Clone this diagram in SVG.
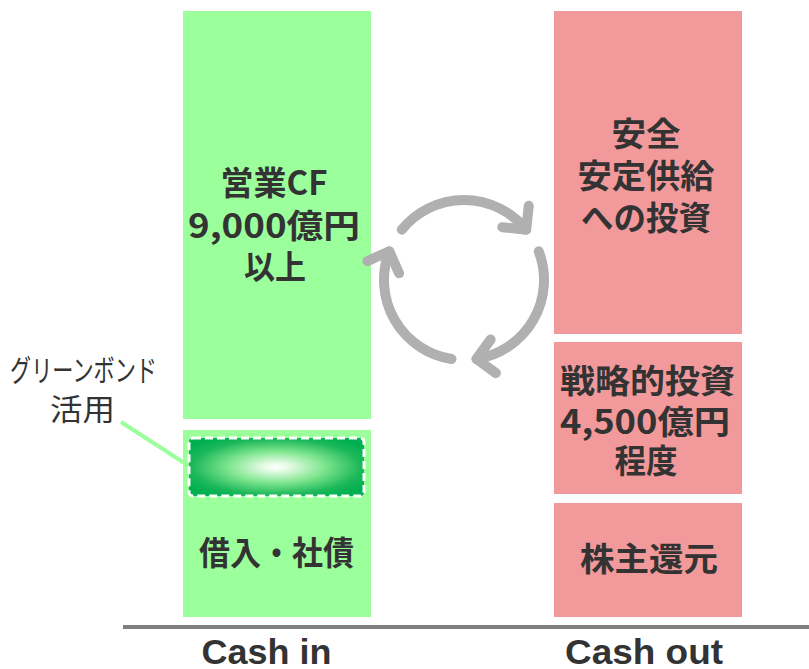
<svg xmlns="http://www.w3.org/2000/svg" width="809" height="669" viewBox="0 0 809 669">
<style>
.g{fill:#9bff9b}
.r{fill:#f2999b}
.t{font-family:"Noto Sans CJK JP",sans-serif;font-weight:bold;font-size:33px;fill:#333;text-anchor:middle}
.l{font-family:"Noto Sans CJK JP",sans-serif;font-size:30px;fill:#333;text-anchor:middle}
.c{font-family:"Liberation Sans",Arial,sans-serif;font-weight:bold;font-size:35px;fill:#333;text-anchor:middle}
.arc{fill:none;stroke:#b0b0b0;stroke-width:10;stroke-linecap:round;marker-end:url(#chev)}
</style>
<defs>
<marker id="chev" markerUnits="userSpaceOnUse" orient="auto" refX="0" refY="0" markerWidth="40" markerHeight="40" overflow="visible">
<path d="M-17,-17 L0,0 L-17,17" fill="none" stroke="#b0b0b0" stroke-width="10" stroke-linecap="round" stroke-linejoin="round"/>
</marker>
<radialGradient id="gb" cx="0.5" cy="0.5" r="0.6">
<stop offset="0" stop-color="#ffffff"/>
<stop offset="0.12" stop-color="#e6fbe6"/>
<stop offset="0.45" stop-color="#80e68f"/>
<stop offset="0.8" stop-color="#1cb85a"/>
<stop offset="1" stop-color="#00b050"/>
</radialGradient>
</defs>
<g id="cf">
<rect class="g" x="183" y="11" width="188" height="408"/>
<text class="t" x="274" y="195" textLength="107" lengthAdjust="spacingAndGlyphs">営業CF</text>
<text class="t" x="274" y="238" textLength="172" lengthAdjust="spacingAndGlyphs">9,000億円</text>
<text class="t" x="275" y="279" textLength="62" lengthAdjust="spacingAndGlyphs">以上</text>
</g>
<g id="debt">
<rect class="g" x="183" y="430" width="188" height="187"/>
<rect x="189" y="438" width="175" height="58" rx="4" fill="url(#gb)" stroke="#ffffff" stroke-width="3" stroke-dasharray="8 4"/>
<text class="t" x="276.5" y="565" textLength="155" lengthAdjust="spacingAndGlyphs">借入・社債</text>
</g>
<g id="safety">
<rect class="r" x="554" y="11" width="188" height="323"/>
<text class="t" x="646" y="146" textLength="69" lengthAdjust="spacingAndGlyphs">安全</text>
<text class="t" x="646" y="188" textLength="137" lengthAdjust="spacingAndGlyphs">安定供給</text>
<text class="t" x="646" y="230" textLength="130" lengthAdjust="spacingAndGlyphs">への投資</text>
</g>
<g id="strategic">
<rect class="r" x="554" y="342" width="188" height="152"/>
<text class="t" x="647.5" y="393" textLength="175" lengthAdjust="spacingAndGlyphs">戦略的投資</text>
<text class="t" x="645" y="434" textLength="170" lengthAdjust="spacingAndGlyphs">4,500億円</text>
<text class="t" x="646" y="473" textLength="63" lengthAdjust="spacingAndGlyphs">程度</text>
</g>
<g id="return">
<rect class="r" x="554" y="503" width="188" height="114"/>
<text class="t" x="649" y="571" textLength="138" lengthAdjust="spacingAndGlyphs">株主還元</text>
</g>
<g id="greenbond-label">
<text class="l" x="83.5" y="381" textLength="147" lengthAdjust="spacingAndGlyphs">グリーンボンド</text>
<text class="l" x="82.5" y="420" textLength="65" lengthAdjust="spacingAndGlyphs">活用</text>
</g>
<g id="connectors">
<line x1="121" y1="422" x2="186" y2="464" stroke="#9bff9b" stroke-width="4"/>
<path class="arc" d="M401.8,229.7 A80,80 0 0 1 526.2,229.7"/>
<path class="arc" d="M538.7,251.3 A80,80 0 0 1 476.5,359"/>
<path class="arc" d="M451.5,359 A80,80 0 0 1 389.3,251.3"/>
</g>
<g id="axis">
<line x1="123" y1="627" x2="809" y2="627" stroke="#7f7f7f" stroke-width="4"/>
<text class="c" x="266.5" y="664" textLength="130" lengthAdjust="spacingAndGlyphs">Cash in</text>
<text class="c" x="644" y="664" textLength="158" lengthAdjust="spacingAndGlyphs">Cash out</text>
</g>
</svg>
